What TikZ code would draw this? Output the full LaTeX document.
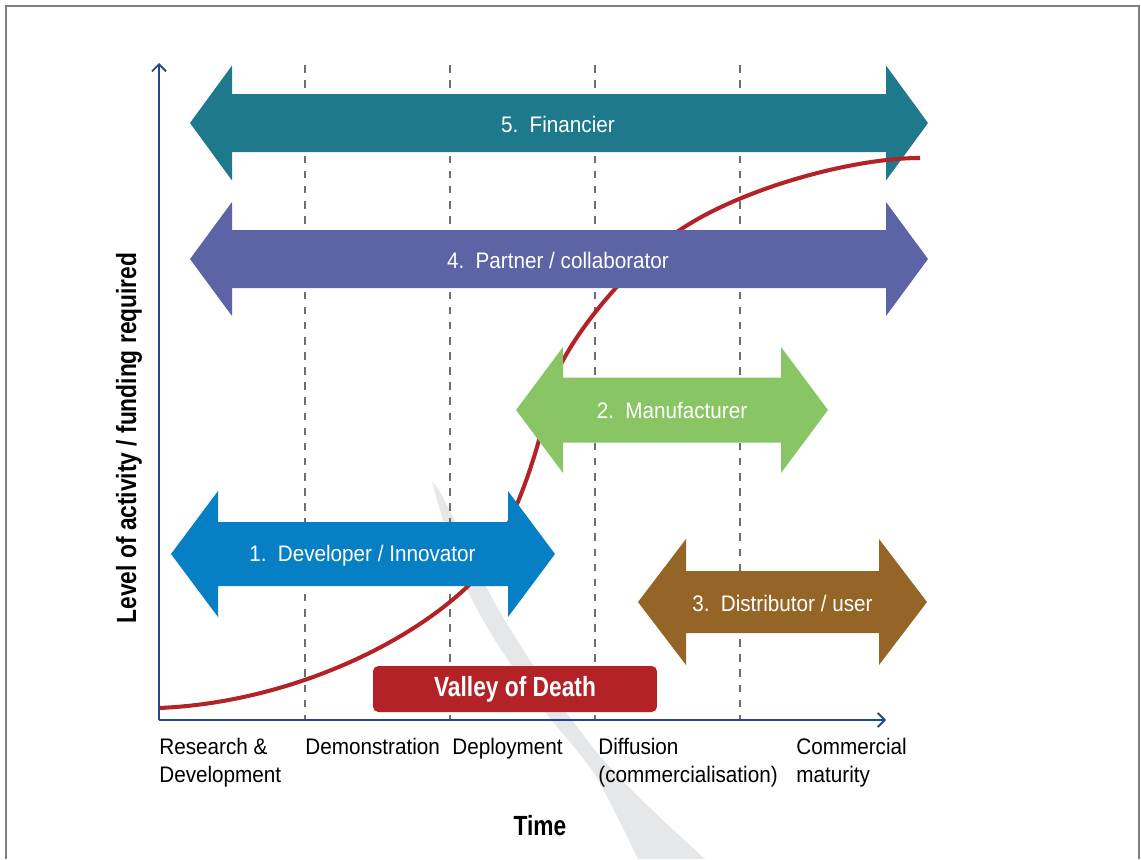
\documentclass[tikz,border=0pt]{standalone}
\usepackage{fontspec}
\setmainfont{Liberation Sans}[FakeStretch=0.92,BoldFeatures={FakeStretch=0.82}]
\usetikzlibrary{arrows.meta}

\definecolor{finteal}{RGB}{31,121,140}
\definecolor{partpurple}{RGB}{92,100,166}
\definecolor{manugreen}{RGB}{138,197,101}
\definecolor{devblue}{RGB}{6,127,196}
\definecolor{distbrown}{RGB}{149,101,40}
\definecolor{deathred}{RGB}{178,34,38}
\definecolor{axisblue}{RGB}{36,70,145}
\definecolor{guidegray}{RGB}{110,110,110}
\definecolor{swoosh}{RGB}{230,231,232}
\definecolor{framegray}{RGB}{128,128,128}

% double headed block arrow: colour, left tip, right tip, mid y, half shaft, half head, head length
\newcommand{\dblarrow}[7]{%
  \fill[#1] (#2,#4) -- (#2+#7,#4-#6) -- (#2+#7,#4-#5) -- (#3-#7,#4-#5) -- (#3-#7,#4-#6)
    -- (#3,#4) -- (#3-#7,#4+#6) -- (#3-#7,#4+#5) -- (#2+#7,#4+#5) -- (#2+#7,#4+#6) -- cycle;}

\begin{document}
\begin{tikzpicture}
[x=0.02cm,y=-0.02cm,
 lbl/.style={text=white,anchor=base,inner sep=0pt,font=\fontsize{12.8}{16.4}\selectfont},
 stage/.style={anchor=north west,align=left,inner sep=0pt,font=\fontsize{12.8}{16.4}\selectfont},
 heading/.style={inner sep=0pt,font=\fontsize{15.8}{19}\selectfont\bfseries},
 guide/.style={draw=guidegray,line width=0.7pt,dash pattern=on 4.3pt off 4.3pt},
 axis/.style={draw=axisblue,line width=1.1pt,-{Straight Barb[length=4pt,width=8pt]}},
]
\useasboundingbox (0,0) rectangle (1141,859);
\draw[framegray,line width=1.4pt] (6,859) -- (6,6) -- (1139,6) -- (1139,859);

% the grey swoosh behind everything
\fill[swoosh] plot[smooth] coordinates {(432,482) (446,530) (465,585) (490,632) (515,670) (550,718) (595,775) (638,859)}
  -- plot[smooth] coordinates {(705,859) (650,808) (605,762) (578,728) (548,688) (522,648) (497,607) (478,570) (458,527) (440,492) (432,482)}
  -- cycle;

% stage boundaries
\foreach \x in {305,450,595,740}
  \draw[guide] (\x,65) -- (\x,720);

% actors, with the S-curve between the top two
\dblarrow{finteal}{190}{928}{123}{29}{57.5}{42}
\draw[deathred,line width=2.3pt] (159,708) .. controls (280,703) and (400,650) .. (467,587)
  .. controls (507,549) and (540,450) .. (548,400)
  .. controls (556,350) and (627,267) .. (677,232)
  .. controls (737,190) and (850,158) .. (920,158);
\dblarrow{partpurple}{190}{928}{259}{29}{57}{42}
\dblarrow{manugreen}{516}{828}{410}{32.5}{63}{47}
\dblarrow{devblue}{171}{555}{554}{32}{63}{47}
\dblarrow{distbrown}{638}{927}{602}{31}{63}{48}

\node[lbl] (fin) at (558,132) {5.\enspace Financier};
\node[lbl] (part) at (558,268) {4.\enspace Partner / collaborator};
\node[lbl] (manu) at (672,418.5) {2.\enspace Manufacturer};
\node[lbl] (dev) at (362.5,561) {1.\enspace Developer / Innovator};
\node[lbl] (dist) at (782.5,611) {3.\enspace Distributor / user};

\node[heading,text=white,fill=deathred,rounded corners=3pt,minimum width=5.68cm,minimum height=0.92cm] (vod) at (515,689) {Valley of Death};

% axes
\coordinate (origin) at (159,720);
\coordinate (ytop) at (159,63);
\coordinate (xend) at (886,720);
\draw[axis] (origin) -- (ytop);
\draw[axis] (origin) -- (xend);

\node[stage] (rd) at (159,737.5) {Research \&\\Development};
\node[stage] (demo) at (305,737.5) {Demonstration};
\node[stage] (depl) at (452,737.5) {Deployment};
\node[stage] (diff) at (598,737.5) {Diffusion\\(commercialisation)};
\node[stage] (mat) at (796,737.5) {Commercial\\maturity};

\node[heading,anchor=base] (time) at (540,835) {Time};
\node[heading,anchor=base,rotate=90] (level) at (136,438) {Level of activity / funding required};
\end{tikzpicture}
\end{document}
